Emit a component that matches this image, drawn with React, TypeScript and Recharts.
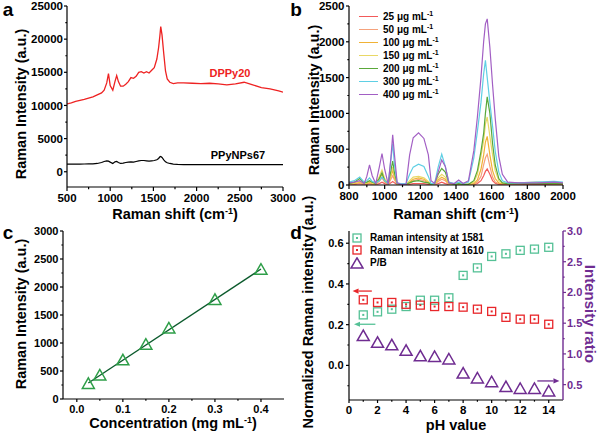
import { LineChart, Line, XAxis, YAxis, ReferenceLine, Legend } from 'recharts'

const FONT = '"Liberation Sans", Arial, sans-serif'

// ---- panel a: SERS spectra ----
const shiftA = [
  500, 550, 600, 650, 700, 750, 800, 850, 900, 930,
  960, 980, 1000, 1030, 1055, 1075, 1095, 1120, 1150, 1180,
  1210, 1240, 1270, 1300, 1330, 1360, 1390, 1420, 1450, 1480,
  1510, 1540, 1560, 1575, 1585, 1600, 1620, 1640, 1660, 1690,
  1730, 1780, 1850, 1950, 2050, 2150, 2250, 2350, 2450, 2550,
  2650, 2750, 2850, 2950, 3000,
]
const dppy20 = [
  10250, 10400, 10600, 10750, 10900, 11100, 11300, 11600, 11900, 12300,
  13400, 14800, 13000, 12300, 13600, 14500, 13600, 12900, 12900, 13200,
  13600, 14200, 14100, 14400, 15000, 15100, 14900, 15100, 14900, 15300,
  15700, 17000, 18700, 20500, 21900, 20600, 17800, 15200, 14000, 13500,
  13300, 13400, 13400, 13350, 13300, 13350, 13250, 13100, 13250, 13500,
  13100, 12700, 12500, 12200, 12000,
]
const ppyNps67 = [
  1150, 1150, 1160, 1160, 1170, 1180, 1200, 1250, 1400, 1550,
  1650, 1600, 1450, 1250, 1500, 1550, 1400, 1250, 1300, 1400,
  1450, 1500, 1450, 1550, 1650, 1700, 1700, 1650, 1600, 1650,
  1700, 1800, 2000, 2250, 2300, 2150, 1800, 1500, 1350, 1250,
  1150, 1100, 1080, 1080, 1070, 1070, 1060, 1060, 1060, 1060,
  1060, 1060, 1060, 1070, 1080,
]
const aXTicks = [500, 750, 1000, 1250, 1500, 1750, 2000, 2250, 2500, 2750, 3000]
const aXMajor = [500, 1000, 1500, 2000, 2500, 3000]
const aYTicks = [0, 2500, 5000, 7500, 10000, 12500, 15000, 17500, 20000, 22500, 25000]
const aYMajor = [0, 5000, 10000, 15000, 20000, 25000]

// ---- panel b: concentration series ----
const shiftB = [
  800, 830, 860, 885, 900, 915, 930, 950, 970, 985,
  1000, 1020, 1035, 1045, 1055, 1070, 1090, 1120, 1140, 1160,
  1190, 1220, 1245, 1260, 1280, 1300, 1320, 1340, 1360, 1390,
  1415, 1440, 1470, 1500, 1520, 1540, 1555, 1565, 1575, 1590,
  1605, 1620, 1640, 1660, 1690, 1750, 1850, 1950, 2000,
]
const c25 = [
  10, 10, 20, 10, 10, 20, 10, 5, 20, 40,
  20, 5, 30, 50, 30, 5, 5, 5, 10, 20,
  20, 20, 10, 5, 5, 20, 40, 20, 5, 5,
  5, 5, 5, 5, 20, 60, 130, 190, 225, 150,
  60, 25, 10, 10, 10, 10, 10, 10, 10,
]
const c50 = [
  10, 20, 30, 10, 20, 30, 10, 10, 50, 100,
  40, 10, 80, 130, 70, 10, 10, 10, 30, 60,
  80, 60, 30, 10, 10, 50, 80, 60, 10, 10,
  10, 10, 10, 10, 40, 120, 280, 380, 430, 260,
  110, 40, 20, 20, 20, 30, 40, 30, 20,
]
const c100 = [
  20, 20, 40, 20, 20, 40, 20, 10, 80, 150,
  60, 10, 120, 200, 100, 20, 10, 10, 40, 80,
  100, 80, 40, 10, 10, 70, 110, 80, 20, 10,
  10, 10, 10, 20, 70, 220, 420, 600, 680, 420,
  200, 90, 30, 20, 20, 30, 30, 20, 20,
]
const c150 = [
  20, 30, 50, 20, 30, 50, 30, 20, 120, 210,
  90, 20, 150, 250, 130, 20, 10, 10, 60, 110,
  120, 100, 50, 10, 10, 100, 150, 110, 20, 10,
  20, 10, 10, 40, 150, 400, 620, 850, 950, 680,
  420, 200, 60, 30, 20, 20, 30, 20, 20,
]
const c200 = [
  20, 40, 90, 30, 40, 60, 40, 20, 90, 170,
  60, 20, 200, 335, 170, 20, 10, 10, 30, 50,
  60, 40, 30, 10, 20, 150, 230, 180, 30, 10,
  20, 10, 10, 60, 200, 470, 720, 1000, 1230, 1000,
  580, 280, 90, 30, 20, 20, 20, 20, 20,
]
const c300 = [
  40, 60, 110, 40, 60, 100, 50, 30, 60, 110,
  60, 20, 350, 580, 280, 30, 20, 20, 150, 250,
  290, 260, 120, 20, 20, 250, 430, 260, 40, 20,
  40, 20, 40, 380, 750, 1150, 1550, 1740, 1500, 1150,
  820, 470, 180, 60, 30, 30, 40, 50, 40,
]
const c400 = [
  30, 40, 60, 20, 120, 280, 130, 20, 250, 440,
  220, 10, 380, 700, 420, 30, 10, 10, 420, 660,
  730, 650, 420, 60, 20, 180, 350, 260, 30, 20,
  70, 20, 60, 480, 950, 1500, 2000, 2250, 2320, 1920,
  1400, 930, 400, 150, 40, 30, 30, 40, 30,
]
const concLabels = ['25', '50', '100', '150', '200', '300', '400']
const concSeries = [c25, c50, c100, c150, c200, c300, c400]
const concColors = ['#f25a5a', '#f5a27c', '#f0b236', '#e9d866', '#5aa83a', '#5fcfe4', '#a25fc4']
const bXTicks = [800, 900, 1000, 1100, 1200, 1300, 1400, 1500, 1600, 1700, 1800, 1900, 2000]
const bXMajor = [800, 1000, 1200, 1400, 1600, 1800, 2000]
const bYTicks = [0, 250, 500, 750, 1000, 1250, 1500, 1750, 2000, 2250, 2500]
const bYMajor = [0, 500, 1000, 1500, 2000, 2500]

// ---- panel c: calibration ----
const concMg = [0.025, 0.05, 0.1, 0.15, 0.2, 0.3, 0.4]
const peakInt = [270, 420, 690, 970, 1260, 1770, 2310]
const fitConc = [0.025, 0.4]
const fitInt = [285, 2320]
const cXTicks = [0, 0.05, 0.1, 0.15, 0.2, 0.25, 0.3, 0.35, 0.4]
const cXMajor = [0, 0.1, 0.2, 0.3, 0.4]
const cYTicks = [0, 250, 500, 750, 1000, 1250, 1500, 1750, 2000, 2250, 2500, 2750, 3000]
const cYMajor = [0, 500, 1000, 1500, 2000, 2500, 3000]

// ---- panel d: pH dependence ----
const ph = [1, 2, 3, 4, 5, 6, 7, 8, 9, 10, 11, 12, 13, 14]
const int1581 = [0.248, 0.263, 0.276, 0.289, 0.32, 0.32, 0.332, 0.442, 0.479, 0.535, 0.548, 0.565, 0.571, 0.58]
const int1610 = [0.322, 0.309, 0.309, 0.3, 0.296, 0.289, 0.289, 0.286, 0.276, 0.265, 0.236, 0.227, 0.227, 0.202]
const pbRatio = [1.29, 1.18, 1.14, 1.05, 0.96, 0.95, 0.91, 0.68, 0.6, 0.54, 0.46, 0.43, 0.43, 0.39]
const dXTicks = [0, 1, 2, 3, 4, 5, 6, 7, 8, 9, 10, 11, 12, 13, 14]
const dXMajor = [0, 2, 4, 6, 8, 10, 12, 14]
const dLTicks = [-0.1, 0, 0.1, 0.2, 0.3, 0.4, 0.5, 0.6]
const dLMajor = [0, 0.2, 0.4, 0.6]
const dRTicks = [0.5, 0.75, 1, 1.25, 1.5, 1.75, 2, 2.25, 2.5, 2.75, 3]
const dRMajor = [0.5, 1, 1.5, 2, 2.5, 3]

const MINT = '#55c196'
const RED = '#e8262a'
const PURPLE = '#6f2c91'
const GREEN = '#2e9e48'

const aData = shiftA.map((s, i) => ({ shift: s, dppy: dppy20[i], ppy: ppyNps67[i] }))
const bData = shiftB.map((s, i) => {
  const row: Record<string, number> = { shift: s }
  concSeries.forEach((arr, k) => (row['c' + concLabels[k]] = arr[i]))
  return row
})
const cPoints = concMg.map((x, i) => ({ x, y: peakInt[i] }))
const cFit = fitConc.map((x, i) => ({ x, y: fitInt[i] }))
const dData = ph.map((p, i) => ({ ph: p, a: int1581[i], b: int1610[i], r: pbRatio[i] }))

type Side = 'bottom' | 'left' | 'right'

function makeTick(side: Side, major: number[], fmt: (v: number) => string, size: number, gap: number, fontSize: number, color = '#000') {
  return (p: any) => {
    const v = p.payload.value
    const isMajor = major.some((m) => Math.abs(m - v) < 1e-6)
    const len = isMajor ? size : size * 0.55
    const txt = { fontFamily: FONT, fontWeight: 700, fontSize, fill: color }
    if (side === 'bottom') {
      const y0 = p.y - size - gap
      return (
        <g>
          <line x1={p.x} x2={p.x} y1={y0} y2={y0 + len} stroke={color} strokeWidth={1.2} />
          {isMajor && <text x={p.x} y={p.y} dy="0.78em" textAnchor="middle" {...txt}>{fmt(v)}</text>}
        </g>
      )
    }
    if (side === 'left') {
      const x0 = p.x + size + gap
      return (
        <g>
          <line x1={x0} x2={x0 - len} y1={p.y} y2={p.y} stroke={color} strokeWidth={1.2} />
          {isMajor && <text x={p.x} y={p.y} dy="0.36em" textAnchor="end" {...txt}>{fmt(v)}</text>}
        </g>
      )
    }
    const x0 = p.x - size - gap
    return (
      <g>
        <line x1={x0} x2={x0 + len} y1={p.y} y2={p.y} stroke={color} strokeWidth={1.2} />
        {isMajor && <text x={p.x} y={p.y} dy="0.36em" textAnchor="start" {...txt}>{fmt(v)}</text>}
      </g>
    )
  }
}

const int = (v: number) => String(v)
const one = (v: number) => v.toFixed(1)
const axisLine = { stroke: '#000', strokeWidth: 1.2 }

const triangle = (color: string) => (p: any) =>
  p.cx == null ? <g key={p.key} /> : (
    <polygon
      key={p.key}
      points={`${p.cx},${p.cy - 6} ${p.cx - 6},${p.cy + 4.5} ${p.cx + 6},${p.cy + 4.5}`}
      fill="none"
      stroke={color}
      strokeWidth={1.5}
    />
  )

const square = (color: string) => (p: any) =>
  p.cx == null ? <g key={p.key} /> : (
    <g key={p.key}>
      <rect x={p.cx - 4} y={p.cy - 4} width={8} height={8} fill="none" stroke={color} strokeWidth={1.3} />
      <rect x={p.cx - 1} y={p.cy - 1} width={2} height={2} fill={color} />
    </g>
  )

const arrow = (color: string) => (p: any) => {
  const { x1, y1, x2, y2 } = p
  const ang = Math.atan2(y2 - y1, x2 - x1)
  const L = 6
  const W = 2.6
  const bx = x2 - L * Math.cos(ang)
  const by = y2 - L * Math.sin(ang)
  const pts = `${x2},${y2} ${bx - W * Math.sin(ang)},${by + W * Math.cos(ang)} ${bx + W * Math.sin(ang)},${by - W * Math.cos(ang)}`
  return (
    <g>
      <line x1={x1} y1={y1} x2={bx} y2={by} stroke={color} strokeWidth={1.3} />
      <polygon points={pts} fill={color} />
    </g>
  )
}

const Sup = ({ children }: { children: string }) => (
  <span style={{ fontSize: 7, position: 'relative', top: -4 }}>{children}</span>
)

function ConcLegend() {
  return (
    <div style={{ fontFamily: FONT, fontWeight: 700, fontSize: 10, color: '#000' }}>
      {concLabels.map((c, i) => (
        <div key={c} style={{ display: 'flex', alignItems: 'center', height: 13 }}>
          <span style={{ width: 19, height: 0, borderTop: `1.5px solid ${concColors[i]}`, marginRight: 5 }} />
          <span>
            {c} μg mL<Sup>-1</Sup>
          </span>
        </div>
      ))}
    </div>
  )
}

const phLegend = [
  { label: 'Raman intensity at 1581', kind: 'sq', color: MINT },
  { label: 'Raman intensity at 1610', kind: 'sq', color: RED },
  { label: 'P/B', kind: 'tri', color: PURPLE },
]

function PhLegend() {
  return (
    <div style={{ fontFamily: FONT, fontWeight: 700, fontSize: 10, color: '#000' }}>
      {phLegend.map((e) => (
        <div key={e.label} style={{ display: 'flex', alignItems: 'center', height: 12.5 }}>
          <svg width={14} height={12} style={{ marginRight: 6 }}>
            {e.kind === 'sq' ? (
              <g>
                <rect x={3} y={2} width={8} height={8} fill="none" stroke={e.color} strokeWidth={1.3} />
                <rect x={6} y={5} width={2} height={2} fill={e.color} />
              </g>
            ) : (
              <polygon points="7,0.8 1,11 13,11" fill="none" stroke={e.color} strokeWidth={1.5} />
            )}
          </svg>
          <span>{e.label}</span>
        </div>
      ))}
    </div>
  )
}

function Title({ x, y, rot = 0, color = '#000', size = 14.5, children }: any) {
  return (
    <text
      x={x}
      y={y}
      transform={rot ? `rotate(${rot} ${x} ${y})` : undefined}
      textAnchor="middle"
      dominantBaseline={rot ? 'central' : undefined}
      fontFamily={FONT}
      fontWeight={700}
      fontSize={size}
      fill={color}
    >
      {children}
    </text>
  )
}

const supT = (
  <>
    <tspan dy={-5} fontSize={9}>-1</tspan>
    <tspan dy={5}>)</tspan>
  </>
)

export default function App() {
  return (
    <div style={{ position: 'absolute', left: 0, top: 0, width: 600, height: 434, background: '#fff', fontFamily: FONT }}>
      {/* a */}
      <div style={{ position: 'absolute', left: 0, top: 0 }}>
        <LineChart width={300} height={217} data={aData} margin={{ top: 6, right: 17, bottom: 0, left: 0 }}>
          <XAxis type="number" dataKey="shift" domain={[500, 3000]} ticks={aXTicks} interval={0} height={30} tickSize={4} tickMargin={2} tickLine={false} axisLine={axisLine} tick={makeTick('bottom', aXMajor, int, 4, 2, 11.5)} allowDataOverflow />
          <XAxis xAxisId="top" orientation="top" type="number" dataKey="shift" domain={[500, 3000]} height={0} tick={false} tickLine={false} axisLine={axisLine} />
          <YAxis type="number" domain={[-2300, 25000]} ticks={aYTicks} interval={0} width={67} tickSize={3} tickMargin={1} tickLine={false} axisLine={axisLine} tick={makeTick('left', aYMajor, int, 3, 1, 11.5)} allowDataOverflow />
          <YAxis yAxisId="right" orientation="right" type="number" domain={[0, 1]} width={0} tick={false} tickLine={false} axisLine={axisLine} />
          <Line type="linear" dataKey="dppy" stroke="#ee2222" strokeWidth={1.3} dot={false} isAnimationActive={false} />
          <Line type="linear" dataKey="ppy" stroke="#000" strokeWidth={1.2} dot={false} isAnimationActive={false} />
        </LineChart>
      </div>

      {/* b */}
      <div style={{ position: 'absolute', left: 300, top: 0 }}>
        <LineChart width={300} height={217} data={bData} margin={{ top: 6, right: 37, bottom: 0, left: 0 }}>
          <XAxis type="number" dataKey="shift" domain={[800, 2000]} ticks={bXTicks} interval={0} height={32} tickSize={4} tickMargin={2} tickLine={false} axisLine={axisLine} tick={makeTick('bottom', bXMajor, int, 4, 2, 11.5)} allowDataOverflow />
          <XAxis xAxisId="top" orientation="top" type="number" dataKey="shift" domain={[800, 2000]} height={0} tick={false} tickLine={false} axisLine={axisLine} />
          <YAxis type="number" domain={[0, 2500]} ticks={bYTicks} interval={0} width={49} tickSize={3} tickMargin={1.5} tickLine={false} axisLine={axisLine} tick={makeTick('left', bYMajor, int, 3, 1.5, 11.5)} allowDataOverflow />
          <YAxis yAxisId="right" orientation="right" type="number" domain={[0, 1]} width={0} tick={false} tickLine={false} axisLine={axisLine} />
          {concLabels.map((c, i) => (
            <Line key={c} type="linear" dataKey={'c' + c} stroke={concColors[i]} strokeWidth={1.2} dot={false} isAnimationActive={false} />
          ))}
          <Legend layout="vertical" align="center" verticalAlign="middle" wrapperStyle={{ left: 59, top: 9.5, width: 'auto', height: 'auto' }} content={() => <ConcLegend />} />
        </LineChart>
      </div>

      {/* c */}
      <div style={{ position: 'absolute', left: 0, top: 217 }}>
        <LineChart width={300} height={217} margin={{ top: 14, right: 16, bottom: 0, left: 0 }}>
          <XAxis type="number" dataKey="x" domain={[-0.03, 0.45]} ticks={cXTicks} interval={0} height={35} tickSize={3} tickMargin={2} tickLine={false} axisLine={axisLine} tick={makeTick('bottom', cXMajor, one, 3, 2, 11)} allowDataOverflow />
          <XAxis xAxisId="top" orientation="top" type="number" dataKey="x" domain={[-0.03, 0.45]} height={0} tick={false} tickLine={false} axisLine={axisLine} />
          <YAxis type="number" domain={[0, 3000]} ticks={cYTicks} interval={0} width={63} tickSize={3} tickMargin={1.5} tickLine={false} axisLine={axisLine} tick={makeTick('left', cYMajor, int, 3, 1.5, 11)} allowDataOverflow />
          <YAxis yAxisId="right" orientation="right" type="number" domain={[0, 1]} width={0} tick={false} tickLine={false} axisLine={axisLine} />
          <Line data={cFit} type="linear" dataKey="y" stroke="#0b5a2c" strokeWidth={1.3} dot={false} isAnimationActive={false} />
          <Line data={cPoints} type="linear" dataKey="y" stroke="none" dot={triangle(GREEN)} isAnimationActive={false} />
        </LineChart>
      </div>

      {/* d */}
      <div style={{ position: 'absolute', left: 300, top: 217 }}>
        <LineChart width={300} height={217} data={dData} margin={{ top: 14, right: 0, bottom: 0, left: 0 }}>
          <XAxis type="number" dataKey="ph" domain={[0, 15]} ticks={dXTicks} interval={0} height={34} tickSize={3} tickMargin={2} tickLine={false} axisLine={axisLine} tick={makeTick('bottom', dXMajor, int, 3, 2, 11.5)} allowDataOverflow />
          <XAxis xAxisId="top" orientation="top" type="number" dataKey="ph" domain={[0, 15]} height={0} tick={false} tickLine={false} axisLine={axisLine} />
          <YAxis yAxisId="l" type="number" domain={[-0.17, 0.66]} ticks={dLTicks} interval={0} width={49} tickSize={3} tickMargin={2.5} tickLine={false} axisLine={axisLine} tick={makeTick('left', dLMajor, one, 3, 2.5, 11)} allowDataOverflow />
          <YAxis yAxisId="r" orientation="right" type="number" domain={[0.25, 3]} ticks={dRTicks} interval={0} width={37} tickSize={3} tickMargin={1} tickLine={false} axisLine={{ stroke: PURPLE, strokeWidth: 1.4 }} tick={makeTick('right', dRMajor, one, 3, 1, 11, PURPLE)} allowDataOverflow />
          <Line yAxisId="l" dataKey="a" stroke="none" dot={square(MINT)} isAnimationActive={false} />
          <Line yAxisId="l" dataKey="b" stroke="none" dot={square(RED)} isAnimationActive={false} />
          <Line yAxisId="r" dataKey="r" stroke="none" dot={triangle(PURPLE)} isAnimationActive={false} />
          <ReferenceLine yAxisId="l" segment={[{ x: 1.6, y: 0.365 }, { x: 0.25, y: 0.365 }]} shape={arrow(RED)} ifOverflow="visible" />
          <ReferenceLine yAxisId="l" segment={[{ x: 1.85, y: 0.202 }, { x: 0.35, y: 0.202 }]} shape={arrow(MINT)} ifOverflow="visible" />
          <ReferenceLine yAxisId="r" segment={[{ x: 13.2, y: 0.56 }, { x: 14.75, y: 0.56 }]} shape={arrow(PURPLE)} ifOverflow="visible" />
          <Legend layout="vertical" align="center" verticalAlign="middle" wrapperStyle={{ left: 50, top: 14.5, width: 'auto', height: 'auto' }} content={() => <PhLegend />} />
        </LineChart>
      </div>

      {/* titles and labels */}
      <svg width={600} height={434} style={{ position: 'absolute', left: 0, top: 0, pointerEvents: 'none' }}>
        <Title x={8} y={16} size={19}>a</Title>
        <Title x={296} y={16} size={19}>b</Title>
        <Title x={8} y={239} size={19}>c</Title>
        <Title x={296} y={239} size={19}>d</Title>

        <Title x={175} y={219}>Raman shift (cm{supT}</Title>
        <Title x={456} y={219}>Raman shift (cm{supT}</Title>
        <Title x={173} y={428}>Concentration (mg mL{supT}</Title>
        <Title x={456} y={430}>pH value</Title>

        <Title x={21} y={104} rot={-90}>Raman Intensity (a.u.)</Title>
        <Title x={314} y={100} rot={-90}>Raman Intensity (a.u.)</Title>
        <Title x={21} y={314} rot={-90}>Raman Intensity (a.u.)</Title>
        <Title x={308} y={312} rot={-90}>Normalized Raman intensity (a.u.)</Title>
        <Title x={590} y={314} rot={90} color={PURPLE} size={15}>Intensity ratio</Title>

        <Title x={230} y={77} size={11} color="#ee2222">DPPy20</Title>
        <Title x={238} y={159} size={11}>PPyNPs67</Title>
      </svg>
    </div>
  )
}
